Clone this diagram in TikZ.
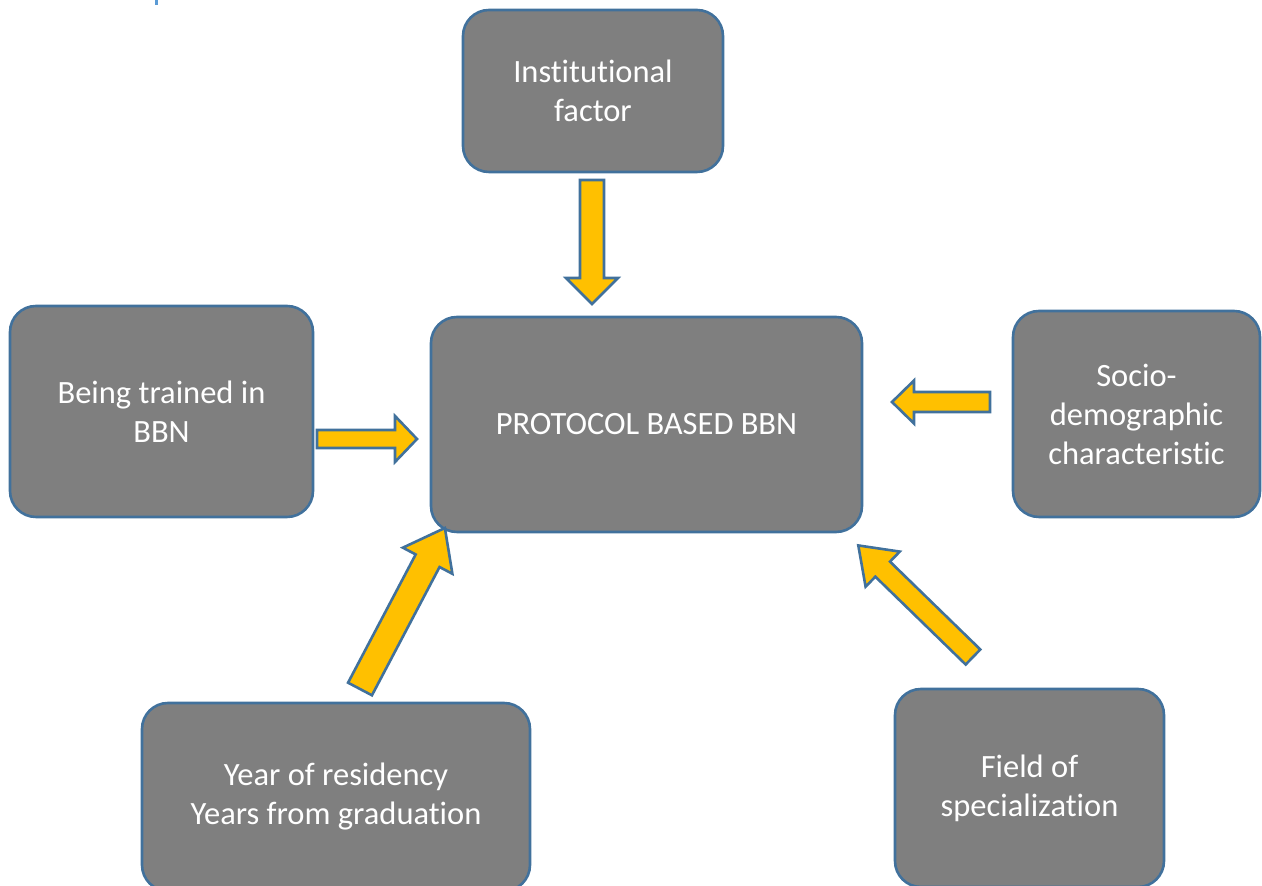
\documentclass[tikz,border=0pt]{standalone}
\usepackage{fontspec}
\setmainfont[RawFeature=-liga]{Carlito}
\begin{document}
\begin{tikzpicture}[x=1pt,y=1pt,
  box/.style={draw=boxblue, line width=2.6pt, fill=boxgray, rounded corners=26pt,
    text=white, align=center, font=\fontsize{32.5}{39}\selectfont, inner sep=0pt},
  arr/.style={draw=boxblue, line width=2.6pt, fill=arrowyellow, line join=miter}]
\definecolor{boxgray}{HTML}{7F7F7F}
\definecolor{boxblue}{HTML}{41719C}
\definecolor{arrowyellow}{HTML}{FFC000}
\definecolor{fragblue}{HTML}{5B9BD5}
\newcommand\blockarr[6]{% tail, angle, length, shaft width, head width, head length
  \begin{scope}[shift={(#1)},rotate=#2]
    \draw[arr] (0,-#4/2) -- (#3-#6,-#4/2) -- (#3-#6,-#5/2) -- (#3,0) -- (#3-#6,#5/2)
      -- (#3-#6,#4/2) -- (0,#4/2) -- cycle;
  \end{scope}}
\useasboundingbox (0,0) rectangle (1262,886);
\clip (0,0) rectangle (1262,886);
\fill[fragblue] (155,881) rectangle (158,886);
\node[box, minimum width=260, minimum height=162] (inst) at (593,795) {Institutional\\factor};
\node[box, minimum width=431, minimum height=215] (proto) at (646.5,461.5) {PROTOCOL BASED BBN};
\node[box, minimum width=303, minimum height=211] (train) at (161.5,474.5) {Being trained in\\BBN};
\node[box, minimum width=247, minimum height=206] (socio) at (1136.5,472) {Socio-\\demographic\\characteristic};
\node[box, minimum width=388, minimum height=188] (year) at (336,89) {Year of residency\\Years from graduation};
\node[box, minimum width=269, minimum height=198] (field) at (1029.5,98) {Field of\\specialization};
\coordinate (a1) at (592,706);
\coordinate (a2) at (317,447);
\coordinate (a3) at (990,484);
\coordinate (a4) at (360,197);
\coordinate (a5) at (973,229);
\blockarr{a1}{-90}{124}{24}{52}{26}
\blockarr{a2}{0}{100}{18}{46}{22}
\blockarr{a3}{180}{98}{20}{43}{22}
\blockarr{a4}{62.2}{182}{27}{56}{37}
\blockarr{a5}{135.8}{160}{21}{49}{34}
\end{tikzpicture}
\end{document}
